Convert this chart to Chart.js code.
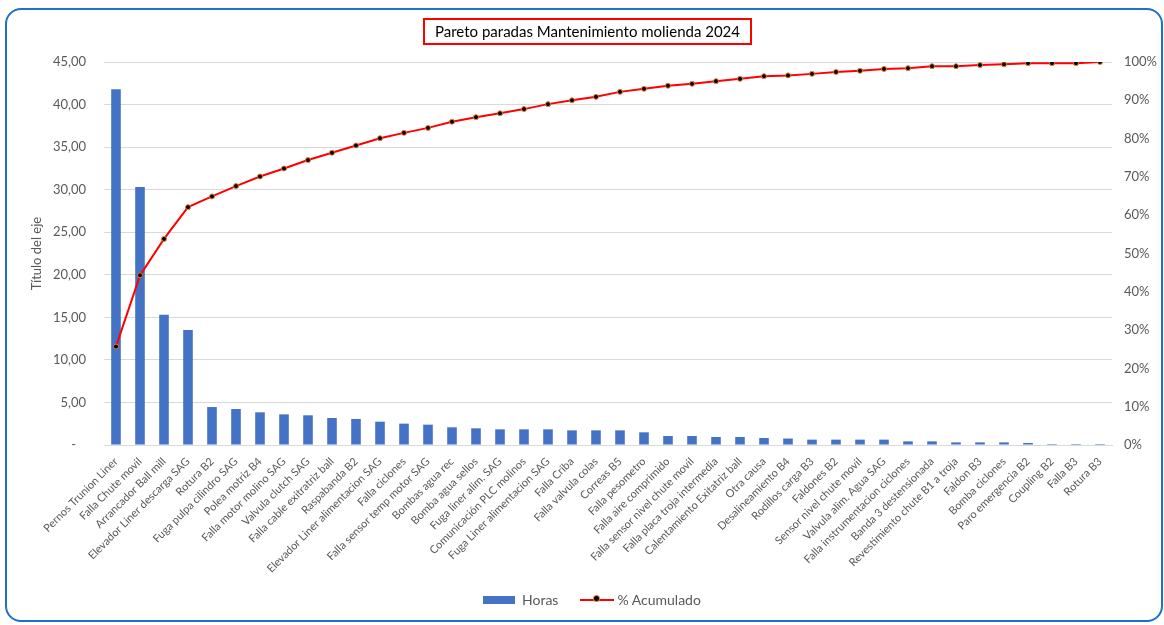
<!DOCTYPE html>
<html lang="es">
<head>
<meta charset="utf-8">
<title>Pareto paradas Mantenimiento molienda 2024</title>
<script src="https://cdn.jsdelivr.net/npm/chart.js@4.4.1/dist/chart.umd.min.js"></script>
<style>
  html, body { margin: 0; padding: 0; background: #fff; }
  body { width: 1164px; height: 625px; position: relative; overflow: hidden; font-family: Lato, "Open Sans", sans-serif; }
  #grafica-pareto { position: absolute; left: 0; top: 0; }
  .marco {
    position: absolute; left: 5px; top: 8px; width: 1158px; height: 614px;
    box-sizing: border-box; border: 2px solid #1A73C8; border-radius: 16px;
    pointer-events: none;
  }
  .titulo {
    position: absolute; left: 423px; top: 18px; width: 329px; height: 27px;
    box-sizing: border-box; border: 2px solid #FF0000;
    font-size: 15px; line-height: 23px; text-align: center; color: #000;
  }
  .leyenda { position: absolute; top: 591px; left: 483px; display: flex; align-items: center; font-size: 14px; color: #595959; }
  .ley-item { display: flex; align-items: center; margin-right: 22px; }
  .ley-barra { width: 32px; height: 8px; margin-right: 7px; }
  .ley-linea { position: relative; width: 34px; height: 2px; margin-right: 3px; }
  .ley-linea span { position: absolute; left: 14px; top: -3px; width: 5px; height: 5px; border-radius: 50%; background: #000; box-shadow: 0 0 0 1px #ED7D31; }
</style>
</head>
<body>
<canvas id="grafica-pareto" width="1164" height="625"></canvas>
<div class="marco"></div>
<div class="titulo">Pareto paradas Mantenimiento molienda 2024</div>
<div class="leyenda" id="leyenda"></div>
<script>
// ---- datos ----
const causas = [
  "Pernos Trunion Liner", "Falla Chute movil", "Arrancador Ball mill", "Elevador Liner descarga SAG",
  "Rotura B2", "Fuga pulpa cilindro SAG", "Polea motriz B4", "Falla motor molino SAG",
  "Valvula clutch SAG", "Falla cable exitratriz ball", "Raspabanda B2", "Elevador Liner alimentacion SAG",
  "Falla ciclones", "Falla sensor temp motor SAG", "Bombas agua rec", "Bomba agua sellos",
  "Fuga liner alim. SAG", "Comunicación PLC molinos", "Fuga Liner alimentacion SAG", "Falla Criba",
  "Falla valvula colas", "Correas B5", "Falla pesometro", "Falla aire comprimido",
  "Falla sensor nivel chute movil", "Falla placa troja intermedia", "Calentamiento Exitatriz ball", "Otra causa",
  "Desalineamiento B4", "Rodillos carga B3", "Faldones B2", "Sensor nivel chute movil",
  "Valvula alim. Agua SAG", "Falla instrumentacion ciclones", "Banda 3 destensionada", "Revestimiento chute B1 a troja",
  "Faldon B3", "Bomba ciclones", "Paro emergencia B2", "Coupling B2", "Falla B3", "Rotura B3"
];

const horas = [
  41.8, 30.3, 15.3, 13.5, 4.46, 4.23, 3.84, 3.6, 3.49, 3.17,
  3.06, 2.74, 2.51, 2.39, 2.08, 1.96, 1.84, 1.84, 1.84, 1.72,
  1.72, 1.72, 1.49, 1.06, 1.06, 0.94, 0.94, 0.82, 0.76, 0.63,
  0.63, 0.63, 0.63, 0.43, 0.43, 0.31, 0.31, 0.31, 0.24, 0.12,
  0.12, 0.12
];

const acumulado = [
  25.7, 44.3, 53.8, 62.1, 64.9, 67.6, 70.1, 72.2, 74.4, 76.3,
  78.2, 80.1, 81.5, 82.8, 84.4, 85.6, 86.6, 87.7, 89.0, 90.0,
  90.9, 92.2, 93.0, 93.8, 94.3, 95.0, 95.6, 96.3, 96.5, 96.9,
  97.4, 97.7, 98.2, 98.4, 98.9, 98.9, 99.2, 99.4, 99.7, 99.7,
  99.7, 100
];

const GRIS = "#595959";
const FUENTE = "Lato, 'Open Sans', sans-serif";

const datasets = [
  {
    type: "line", label: "% Acumulado", data: acumulado, yAxisID: "y1", order: 0,
    borderColor: "#FF0000", borderWidth: 2, tension: 0,
    pointRadius: 2.5, pointBackgroundColor: "#000", pointBorderColor: "#ED7D31", pointBorderWidth: 1
  },
  {
    type: "bar", label: "Horas", data: horas, yAxisID: "y", order: 1,
    backgroundColor: "#4472C4", barPercentage: 0.4, categoryPercentage: 1
  }
];

new Chart(document.getElementById("grafica-pareto"), {
  data: { labels: causas, datasets },
  options: {
    responsive: false,
    animation: false,
    layout: { padding: { top: 62, left: 0, right: 0, bottom: 38 } },
    plugins: { legend: { display: false }, tooltip: { enabled: false } },
    scales: {
      x: {
        grid: { display: false },
        border: { color: "#D9D9D9" },
        ticks: { autoSkip: false, minRotation: 45, maxRotation: 45, padding: 2, color: GRIS, font: { family: FUENTE, size: 11 } },
        afterFit: s => { s.height = 142; }
      },
      y: {
        position: "left", min: 0, max: 45,
        grid: { color: "#D9D9D9", drawTicks: false },
        border: { display: false },
        ticks: {
          stepSize: 5, padding: 18, color: GRIS, font: { family: FUENTE, size: 13 },
          callback: v => v === 0 ? "-   " : v.toFixed(2).replace(".", ",")
        },
        title: { display: true, text: "Título del eje", color: GRIS, font: { family: FUENTE, size: 13 }, padding: { top: 29, bottom: 0 } },
        afterFit: s => { s.width = 104; }
      },
      y1: {
        position: "right", min: 0, max: 100,
        grid: { display: false, drawTicks: false },
        border: { display: false },
        ticks: { stepSize: 10, padding: 12, color: GRIS, font: { family: FUENTE, size: 13 }, callback: v => v + "%" },
        afterFit: s => { s.width = 52; }
      }
    }
  }
});

// leyenda inferior
document.getElementById("leyenda").innerHTML = `
  <div class="ley-item"><div class="ley-barra" style="background:${datasets[1].backgroundColor}"></div>${datasets[1].label}</div>
  <div class="ley-item"><div class="ley-linea" style="background:${datasets[0].borderColor}"><span></span></div>${datasets[0].label}</div>
`;
</script>
</body>
</html>
